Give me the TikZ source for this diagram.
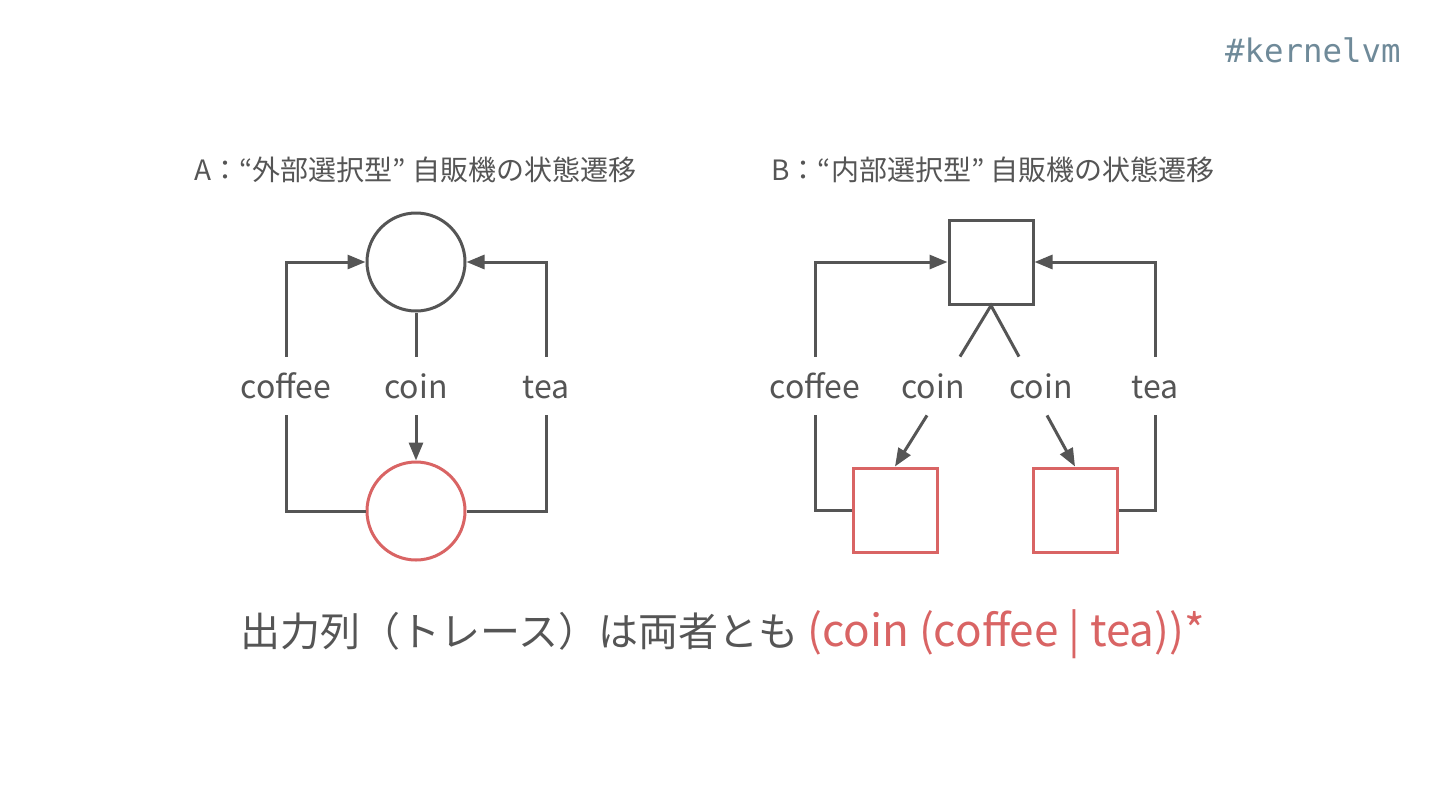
\documentclass[tikz,border=0pt]{standalone}
\usepackage{fontspec}
\setmainfont{Noto Sans CJK JP}
\newfontfamily\tagfont{DejaVu Sans Mono}
\usetikzlibrary{arrows.meta,calc}
\definecolor{ink}{HTML}{555555}
\definecolor{accent}{HTML}{D96464}
\definecolor{tagc}{HTML}{6F8A99}
\tikzset{
  ln/.style={draw=ink,line width=1.5pt},
  arr/.style={ln,-{Triangle[length=9pt,width=7pt]}},
  stcirc/.style={circle,draw=ink,line width=1.5pt,minimum size=49pt,inner sep=0pt},
  redcirc/.style={stcirc,draw=accent},
  stsq/.style={rectangle,draw=ink,line width=1.5pt,minimum size=42pt,inner sep=0pt},
  redsq/.style={stsq,draw=accent},
  lbl/.style={text=ink,font=\fontsize{16pt}{19pt}\selectfont,minimum height=29pt,inner sep=0pt,text height=12pt,text depth=0pt},
  ttl/.style={text=ink,font=\fontsize{14pt}{17pt}\selectfont,anchor=west,inner sep=0pt},
}
\begin{document}
\begin{tikzpicture}[x=0.5pt,y=-0.5pt]
\useasboundingbox[fill=white] (0,0) rectangle (1440,810);
\node[anchor=east,inner sep=0pt,text=tagc,font=\tagfont\fontsize{16.2pt}{19pt}\selectfont] (tag) at (1401,50) {\#kernelvm};
% Titles
\node[ttl] (tA) at (194,170) {A：“外部選択型” 自販機の状態遷移};
\node[ttl] (tB) at (771,170) {B：“内部選択型” 自販機の状態遷移};
% Diagram A
\node[stcirc] (topA) at (416,262) {};
\node[redcirc] (botA) at (416,511) {};
\node[lbl] (cofA) at (286,386) {coffee};
\node[lbl] (coinA) at (416,386) {coin};
\node[lbl] (teaA) at (546,386) {tea};
\draw[arr] (cofA.north) |- (topA.west);
\draw[arr] (teaA.north) |- (topA.east);
\draw[ln] (topA.south) -- (coinA.north);
\draw[arr] (coinA.south) -- (botA.north);
\draw[ln] (cofA.south) |- (botA.west);
\draw[ln] (teaA.south) |- (botA.east);
% Diagram B
\node[stsq] (topB) at (991,262) {};
\node[redsq] (botBL) at (895,510) {};
\node[redsq] (botBR) at (1075,510) {};
\node[lbl] (cofB) at (815,386) {coffee};
\node[lbl] (coinBL) at (933,386) {coin};
\node[lbl] (coinBR) at (1041,386) {coin};
\node[lbl] (teaB) at (1155,386) {tea};
\draw[arr] (cofB.north) |- (topB.west);
\draw[arr] (teaB.north) |- (topB.east);
\draw[ln] ($(coinBL.north)+(27,0)$) -- (topB.south) -- ($(coinBR.north)+(-22,0)$);
\draw[arr] ($(coinBL.south)+(-6,0)$) -- (botBL.north);
\draw[arr] ($(coinBR.south)+(6,0)$) -- (botBR.north);
\draw[ln] (cofB.south) |- (botBL.west);
\draw[ln] (teaB.south) |- (botBR.east);
% Bottom caption
\node[anchor=west,inner sep=0pt,text=ink,font=\fontsize{20pt}{24pt}\selectfont] (cap) at (240,634) {出力列（トレース）は両者とも \textcolor{accent}{\fontsize{22pt}{24pt}\selectfont(coin (coffee | tea))*}};
\end{tikzpicture}
\end{document}
